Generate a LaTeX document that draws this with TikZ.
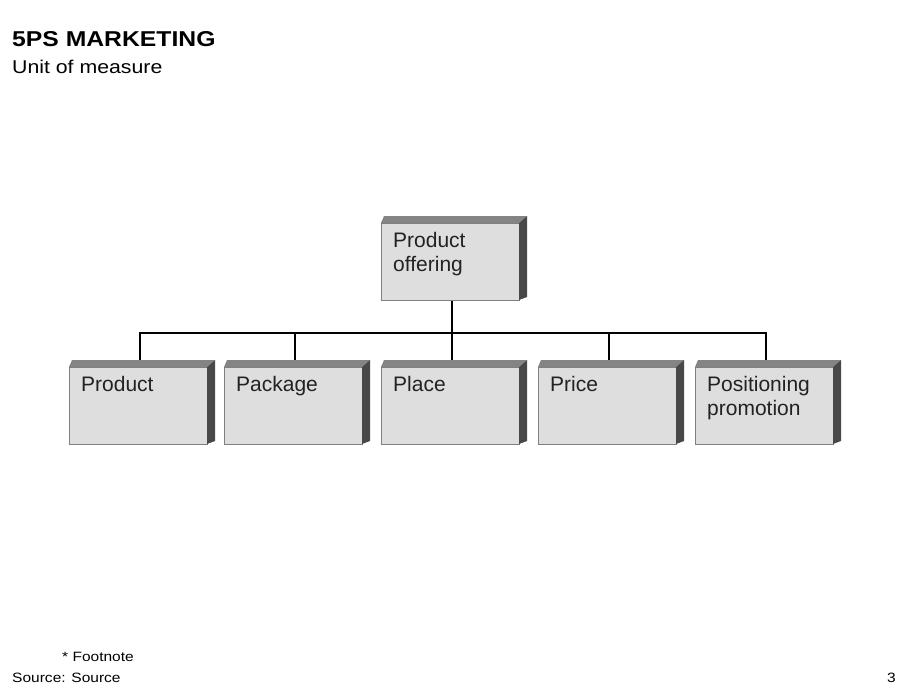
\documentclass[tikz,border=0pt]{standalone}
\usepackage{fontspec}
\setmainfont{Liberation Sans}
\newfontfamily\widefont[FakeStretch=1.15]{Liberation Sans}
\usetikzlibrary{positioning, backgrounds}
\definecolor{FaceGray}{RGB}{222,222,222}
\definecolor{TopGray}{RGB}{132,132,132}
\definecolor{SideGray}{RGB}{72,72,72}
\definecolor{InkGray}{RGB}{34,34,34}

\begin{document}
\begin{tikzpicture}[x=1pt, y=-1pt,
    box/.style={rectangle, draw=gray, fill=FaceGray, minimum width=138pt, minimum height=77pt, inner sep=0pt, outer sep=0pt, anchor=north west, label={[boxtext]north west:#1}},
    boxtext/.style={anchor=north west, inner sep=0pt, xshift=12pt, yshift=-9pt, align=left, text=InkGray, font=\fontsize{21}{24}\selectfont},
    link/.style={black, line width=2pt},
    heading/.style={anchor=base west, inner sep=0pt, font=\widefont\bfseries\fontsize{21.5}{24}\selectfont},
    subheading/.style={anchor=base west, inner sep=0pt, font=\widefont\fontsize{18.5}{22}\selectfont},
    small/.style={inner sep=0pt, font=\widefont\fontsize{13.5}{16}\selectfont}
  ]
  \useasboundingbox (0,0) rectangle (920,691);

  % titles
  \node (title) [heading] at (12,46) {5PS MARKETING};
  \node (subtitle) [subheading] at (12,73) {Unit of measure};

  % boxes
  \node (top) [box={Product\\offering}] at (381,223) {};
  \node (product) [box={Product}] at (69,367) {};
  \node (package) [box={Package}, right=17pt of product.north east, anchor=north west] {};
  \node (place) [box={Place}, right=19pt of package.north east, anchor=north west] {};
  \node (price) [box={Price}, right=19pt of place.north east, anchor=north west] {};
  \node (positioning) [box={Positioning\\promotion}, right=19pt of price.north east, anchor=north west] {};

  % 3d faces
  \foreach \n in {top, product, package, place, price, positioning} {
    \fill[TopGray] (\n.north west) -- ++(3,-7) -- ([shift={(8,-7)}]\n.north east) -- (\n.north east) -- cycle;
    \fill[SideGray] (\n.north east) -- ++(8,-7) -- ([shift={(8,-3)}]\n.south east) -- (\n.south east) -- cycle;
  }

  % connectors
  \begin{scope}[on background layer]
    \coordinate (bus) at ([xshift=2pt, yshift=-33pt]top.south);
    \draw[link] ([xshift=2pt]top.south) -- (bus);
    \foreach \n in {product, package, place, price, positioning}
      \draw[link] ([xshift=2pt]\n.north) |- (bus);
  \end{scope}

  % footer
  \node (footnote) [small, anchor=base west] at (62,661) {* Footnote};
  \node (source) [small, anchor=base west] at (12,682) {Source: Source};
  \node (page) [small, anchor=base east] at (896,682) {3};
\end{tikzpicture}
\end{document}
